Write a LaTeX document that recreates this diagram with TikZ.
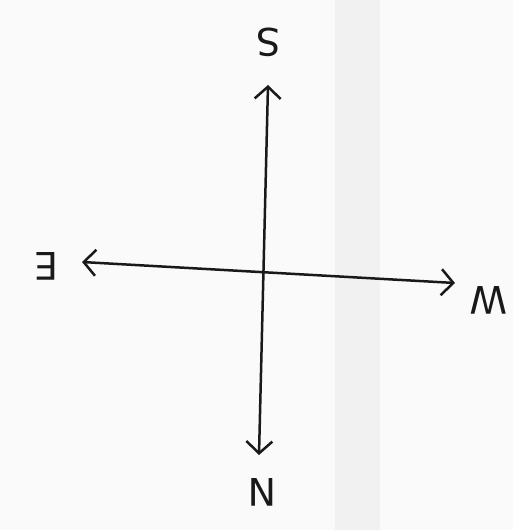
\documentclass[tikz,border=0pt]{standalone}
\usepackage{fontspec}
\setmainfont{DejaVu Sans}
\usetikzlibrary{arrows.meta}
\definecolor{paper}{RGB}{250,250,250}
\definecolor{band}{RGB}{241,241,241}
\definecolor{ink}{RGB}{25,25,25}
\tikzset{barb/.tip={Straight Barb[length=12pt,width=26pt,line width=2.5pt]}}
\begin{document}
\begin{tikzpicture}[x=1pt,y=-1pt,
  axis/.style={draw=ink,line width=2.5pt,line cap=round,barb-barb},
  lbl/.style={text=ink,font=\fontsize{38}{38}\selectfont,rotate=180,inner sep=0pt}]
\fill[paper] (0,0) rectangle (513,530);
\fill[band] (335,0) rectangle (380,530);
\useasboundingbox (0,0) rectangle (513,530);
\coordinate (top) at (268,85);
\coordinate (bot) at (259,455);
\coordinate (lft) at (82,262);
\coordinate (rgt) at (455,283);
\draw[axis] (bot) -- (top);
\draw[axis] (lft) -- (rgt);
\node[lbl] (s) at (268,42) {S};
\node[lbl] (n) at (262,492) {N};
\node[lbl] (e) at (46,266) {E};
\node[lbl] (w) at (489,300) {W};
\end{tikzpicture}
\end{document}
